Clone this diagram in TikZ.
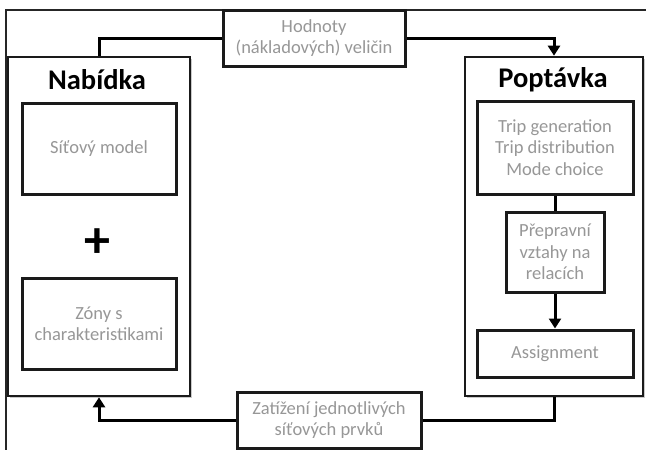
\documentclass[tikz,border=0pt]{standalone}
\usepackage{fontspec}
\setmainfont{Carlito}
\usetikzlibrary{arrows.meta,shadows}
\definecolor{txtgray}{HTML}{979797}
\definecolor{edge}{HTML}{1A1A1A}
\tikzset{
  shade/.style={drop shadow={shadow xshift=1.5pt,shadow yshift=-2pt,opacity=0.35,fill=black!60}},
  outerbox/.style={draw=edge,line width=2.6pt,fill=white,inner sep=0pt,anchor=center,shade},
  innerbox/.style={draw=edge,line width=3pt,fill=white,inner sep=0pt,anchor=center,shade,
    align=center,text=txtgray,font=\fontsize{18.5}{21.5}\selectfont},
  title/.style={font=\fontsize{28.5}{32}\selectfont\bfseries,text=black,inner sep=0pt},
  conn/.style={draw=black,line width=3pt},
  arr/.style={conn,-{Triangle[length=10pt,width=12pt]}},
  frame/.style={draw=black!85,line width=1.3pt}
}
\begin{document}
\begin{tikzpicture}[x=1pt,y=-1pt]
\useasboundingbox (0,0) rectangle (646,450);
% partial outer frame
\draw[frame] (646,10) -- (6,10) -- (6,450);
% main boxes
\node[outerbox,minimum width=182pt,minimum height=339pt] (nab) at (99,226.5) {};
\node[outerbox,minimum width=178pt,minimum height=339pt] (pop) at (554,226.5) {};
\node[title] (nabt) at (97,80) {Nabídka};
\node[title] (popt) at (553,80) {Poptávka};
% left inner boxes
\node[innerbox,minimum width=154pt,minimum height=91pt] (sit) at (99,148.5) {Síťový model};
\node[font=\fontsize{52}{52}\selectfont\bfseries,inner sep=0pt] (plus) at (97,243) {+};
\node[innerbox,minimum width=154pt,minimum height=91pt] (zon) at (99,323.5) {Zóny s\\charakteristikami};
% right inner boxes
\node[innerbox,minimum width=156pt,minimum height=93pt] (trip) at (555,147.5) {Trip generation\\Trip distribution\\Mode choice};
\node[innerbox,minimum width=98pt,minimum height=80pt] (prep) at (555,252) {Přepravní\\vztahy na\\relacích};
\node[innerbox,minimum width=156pt,minimum height=47pt] (asg) at (555,353.5) {Assignment};
% label boxes
\node[innerbox,minimum width=182pt,minimum height=56pt] (hod) at (314,38) {Hodnoty\\(nákladových) veličin};
\node[innerbox,minimum width=184pt,minimum height=56pt] (zat) at (329,420) {Zatížení jednotlivých\\síťových prvků};
% connectors
\draw[conn] (nab.north) |- (hod.west);
\draw[arr] (hod.east) -| (pop.north);
\draw[conn] (trip.south) -- (prep.north);
\draw[arr] (prep.south) -- (asg.north);
\draw[conn] (pop.south) |- (zat.east);
\draw[arr] (zat.west) -| (nab.south);
\end{tikzpicture}
\end{document}
